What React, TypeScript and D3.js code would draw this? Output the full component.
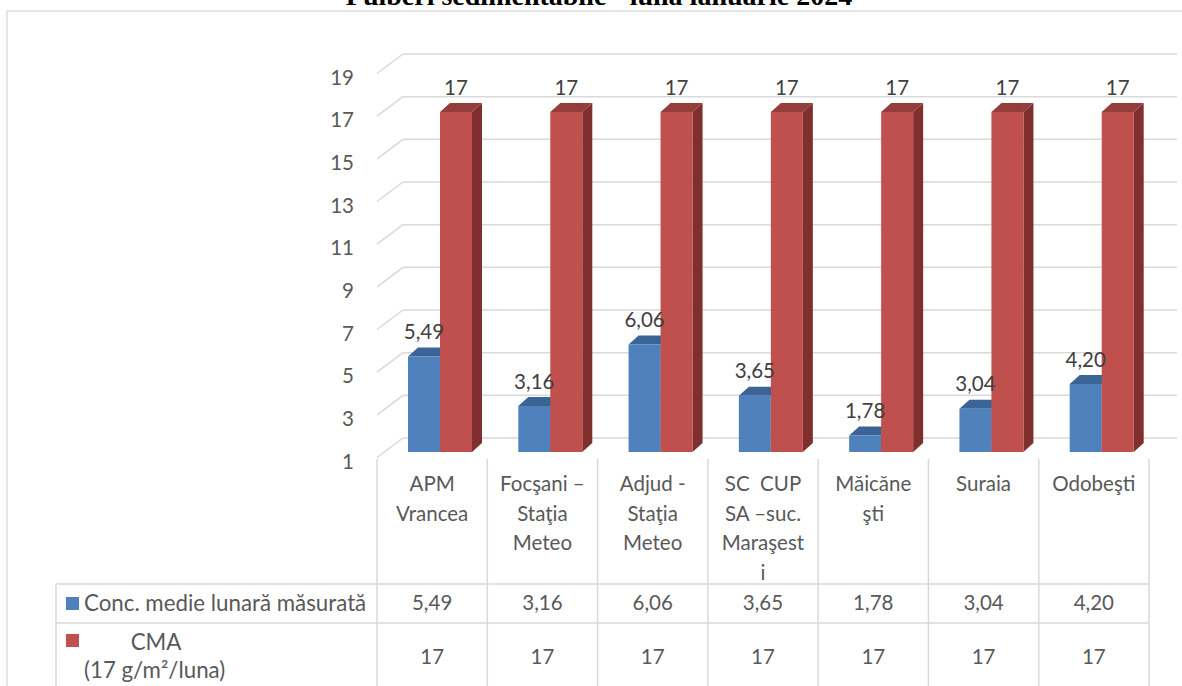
import React from "react";
import * as d3 from "d3";

const title = "Pulberi sedimentabile - luna ianuarie 2024";
const categories = [
  "APM\nVrancea",
  "Focşani –\nStaţia\nMeteo",
  "Adjud -\nStaţia\nMeteo",
  "SC  CUP\nSA –suc.\nMaraşest\ni",
  "Măicăne\nşti",
  "Suraia",
  "Odobeşti",
];
const seriesNames = ["Conc. medie lunară măsurată", "CMA", "(17 g/m²/luna)"];
const concValues = [5.49, 3.16, 6.06, 3.65, 1.78, 3.04, 4.2];
const cmaValues = [17, 17, 17, 17, 17, 17, 17];
const yTicks = [1, 3, 5, 7, 9, 11, 13, 15, 17, 19];

const FONT = "Lato, 'Noto Sans', sans-serif";
const GRID = "#D9D9D9";
const TXT = "#595959";
const LBL = "#404040";
const FS = 20.5;
const FS_LEG = 22.3;

const colors = {
  conc: { front: "#4F81BD", top: "#3A6496", side: "#2F5280" },
  cma: { front: "#C0504D", top: "#943D3A", side: "#7F302E" },
};

const fmt = (v: number, dec: number) => d3.format(`.${dec}f`)(v).replace(".", ",");

export default function App() {
  const W = 1182;
  const H = 686;
  const left = 377;
  const right = 1149;
  const depthDX = 26;
  const depthDY = 19.5;
  const gridRight = 1177;

  const yBack = d3.scaleLinear().domain([1, 19]).range([438, 54]);
  const yBar = d3.scaleLinear().domain([1, 19]).range([452, 69.5]);
  const x0 = d3.scaleBand<string>().domain(categories).range([left, right]).paddingInner(0);
  const groupShift = 31;
  const x1 = d3.scaleBand<string>().domain(["conc", "cma"]).range([0, 64]);
  const bdx = 10;
  const bdy = 9;

  const series = [
    { key: "conc", values: concValues, dec: 2 },
    { key: "cma", values: cmaValues, dec: 0 },
  ];

  const bw = x1.bandwidth();
  const cw = x0.bandwidth();

  const bar = (cx: number, v: number, key: string, i: number) => {
    const c = (colors as any)[key];
    const yT = yBar(v);
    const yB = yBar(1);
    const xL = cx;
    const xR = cx + bw;
    const front = `M${xL},${yB}L${xR},${yB}L${xR},${yT}L${xL},${yT}Z`;
    const top = `M${xL},${yT}L${xL + bdx},${yT - bdy}L${xR + bdx},${yT - bdy}L${xR},${yT}Z`;
    const side = `M${xR},${yB}L${xR + bdx},${yB - bdy}L${xR + bdx},${yT - bdy}L${xR},${yT}Z`;
    return (
      <g key={`${key}-${i}`}>
        <path d={side} fill={c.side} />
        <path d={top} fill={c.top} />
        <path d={front} fill={c.front} />
      </g>
    );
  };

  const rowTop = 584;
  const rowSep = 623;
  const rowBottom = 692;
  const tableLeft = 56;

  return (
    <svg
      width={W}
      height={H}
      style={{ position: "absolute", left: 0, top: 0, background: "#fff" }}
      fontFamily={FONT}
    >
      <rect x={0} y={0} width={W} height={H} fill="#fff" />
      {/* outer frame */}
      <rect x={7} y={11} width={1190} height={700} fill="none" stroke={GRID} strokeWidth={1.3} />
      {/* title */}
      <text
        x={599}
        y={5}
        textAnchor="middle"
        fontFamily="'Liberation Serif', 'Times New Roman', serif"
        fontWeight="bold"
        fontSize={28}
        fill="#000"
      >
        {title}
      </text>

      {/* gridlines */}
      {yTicks.map((t) => (
        <g key={`g${t}`}>
          <line x1={left} y1={yBack(t) + depthDY} x2={left + depthDX} y2={yBack(t)} stroke={GRID} strokeWidth={1.5} />
          <line x1={left + depthDX} y1={yBack(t)} x2={gridRight} y2={yBack(t)} stroke={GRID} strokeWidth={1.5} />
          <text
            x={354}
            y={yBack(t) + depthDY + 4}
            dy="0.35em"
            textAnchor="end"
            fontSize={FS}
            fill={TXT}
          >
            {t}
          </text>
        </g>
      ))}

      {/* bars */}
      {categories.map((cat, i) =>
        series.map((s) => bar((x0(cat) as number) + groupShift + (x1(s.key) as number), s.values[i], s.key, i))
      )}

      {/* data labels */}
      {categories.map((cat, i) =>
        series.map((s) => (
          <text
            key={`l${s.key}${i}`}
            x={(x0(cat) as number) + groupShift + (x1(s.key) as number) + bw / 2}
            y={yBar(s.values[i]) - 17.5}
            textAnchor="middle"
            fontSize={FS}
            fill={LBL}
          >
            {fmt(s.values[i], s.dec)}
          </text>
        ))
      )}

      {/* data table: category header verticals */}
      {d3.range(categories.length + 1).map((k) => {
        const x = left + k * cw;
        return <line key={`v${k}`} x1={x} y1={459} x2={x} y2={rowBottom} stroke={GRID} strokeWidth={1.5} />;
      })}
      <line x1={tableLeft} y1={rowTop} x2={right} y2={rowTop} stroke={GRID} strokeWidth={1.5} />
      <line x1={tableLeft} y1={rowSep} x2={right} y2={rowSep} stroke={GRID} strokeWidth={1.5} />
      <line x1={tableLeft} y1={rowBottom} x2={right} y2={rowBottom} stroke={GRID} strokeWidth={1.5} />
      <line x1={tableLeft} y1={rowTop} x2={tableLeft} y2={rowBottom} stroke={GRID} strokeWidth={1.5} />

      {/* category labels */}
      {categories.map((cat) => (
        <text key={`c${cat}`} textAnchor="middle" fontSize={FS} fill={TXT} style={{ whiteSpace: "pre" }}>
          {cat.split("\n").map((line, j) => (
            <tspan key={j} x={(x0(cat) as number) + cw / 2} y={484 + j * 29.5} dy="0.35em">
              {line}
            </tspan>
          ))}
        </text>
      ))}

      {/* legend keys */}
      <rect x={66} y={597} width={13} height={13} fill={colors.conc.front} />
      <rect x={66} y={634} width={13} height={13} fill={colors.cma.front} />
      <text x={84} y={603} dy="0.35em" fontSize={FS_LEG} fill={TXT}>
        {seriesNames[0]}
      </text>
      <text x={156} y={642} dy="0.35em" textAnchor="middle" fontSize={FS_LEG} fill={TXT}>
        {seriesNames[1]}
      </text>
      <text x={84} y={670} dy="0.35em" fontSize={FS_LEG} fill={TXT}>
        {seriesNames[2]}
      </text>

      {/* table values */}
      {categories.map((cat, i) => (
        <g key={`tv${i}`}>
          <text x={(x0(cat) as number) + cw / 2} y={603} dy="0.35em" textAnchor="middle" fontSize={FS} fill={TXT}>
            {fmt(concValues[i], 2)}
          </text>
          <text x={(x0(cat) as number) + cw / 2} y={657} dy="0.35em" textAnchor="middle" fontSize={FS} fill={TXT}>
            {fmt(cmaValues[i], 0)}
          </text>
        </g>
      ))}
    </svg>
  );
}
